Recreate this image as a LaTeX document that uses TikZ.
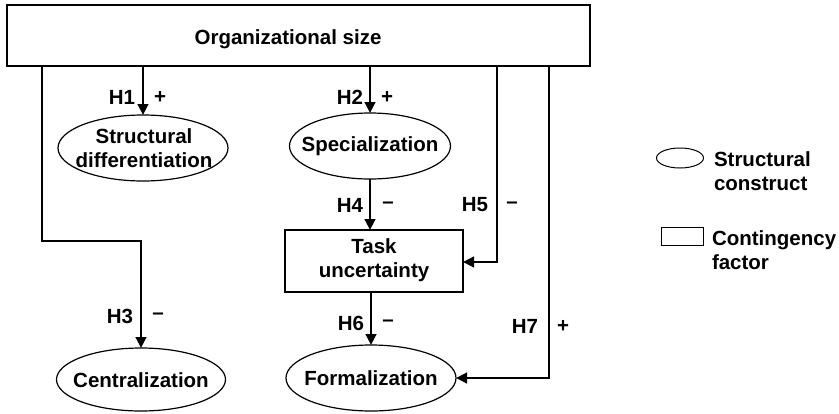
\documentclass[tikz,border=0pt]{standalone}
\usepackage{fontspec}
\setmainfont{Liberation Sans}
\usetikzlibrary{arrows.meta,shapes.geometric}
\begin{document}
\begin{tikzpicture}[x=1pt,y=-1pt,
  every node/.style={font=\fontsize{20.5}{24.5}\selectfont\bfseries, inner sep=0pt, outer sep=0pt},
  construct/.style={draw, ellipse, line width=1.2pt},
  factor/.style={draw, rectangle, line width=1.2pt},
  link/.style={line width=2.7pt, line join=miter, -{Triangle[length=11pt,width=10.5pt]}},
  hyp/.style={anchor=east},
  sign/.style={anchor=center}
]
\useasboundingbox (0,0) rectangle (839,413);

% boxes and ellipses
\node[factor, minimum width=583pt, minimum height=61pt] (size) at (298.5,35.5) {};
\node (sizetext) at (288,39) {Organizational size};

\node[construct, minimum width=170pt, minimum height=66pt] (sd) at (143,148) {};
\node[align=center] (sdtext) at (144,148) {Structural\\differentiation};

\node[construct, minimum width=161pt, minimum height=66pt] (spec) at (370,146) {};
\node (spectext) at (370,146) {Specialization};

\node[factor, minimum width=178pt, minimum height=62pt] (task) at (374,261) {};
\node[align=center] (tasktext) at (374,260) {Task\\uncertainty};

\node[construct, minimum width=169pt, minimum height=63pt] (cent) at (141,379.5) {};
\node (centtext) at (141,380) {Centralization};

\node[construct, minimum width=170pt, minimum height=66pt] (form) at (371,378) {};
\node (formtext) at (371,378) {Formalization};

% hypothesised links
\coordinate (h3a) at (42,241);
\coordinate (h5a) at (497,262);
\coordinate (h7a) at (549,378);

\draw[link] (size.south -| sd.north) -- (sd.north);
\draw[link] (size.south -| spec.north) -- (spec.north);
\draw[link] (size.south -| h3a) -- (h3a) -| (cent.north);
\draw[link] (spec.south) -- (spec.south |- task.north);
\draw[link] (size.south -| h5a) -- (h5a) -- (task.east |- h5a);
\draw[link] (task.south -| form.north) -- (form.north);
\draw[link] (size.south -| h7a) -- (h7a) -- (form.east);

% hypothesis labels and signs
\node[hyp] (l1) at (135,97) {H1};   \node[sign] (s1) at (160,97) {+};
\node[hyp] (l2) at (363,97) {H2};   \node[sign] (s2) at (387,97) {+};
\node[hyp] (l3) at (133,316) {H3};  \node[sign] (s3) at (158,316) {--};
\node[hyp] (l4) at (363,205) {H4};  \node[sign] (s4) at (388,205) {--};
\node[hyp] (l5) at (488,205) {H5};  \node[sign] (s5) at (512,205) {--};
\node[hyp] (l6) at (364,323) {H6};  \node[sign] (s6) at (388,323) {--};
\node[hyp] (l7) at (538,326) {H7};  \node[sign] (s7) at (563,326) {+};

% legend
\node[construct, minimum width=47pt, minimum height=20pt, line width=1pt] (legc) at (680,158) {};
\node[anchor=west, align=left] (legctext) at (714,171) {Structural\\construct};
\node[factor, minimum width=42pt, minimum height=18pt, line width=1pt] (legf) at (682,236) {};
\node[anchor=west, align=left] (legftext) at (712,250) {Contingency\\factor};
\end{tikzpicture}
\end{document}
